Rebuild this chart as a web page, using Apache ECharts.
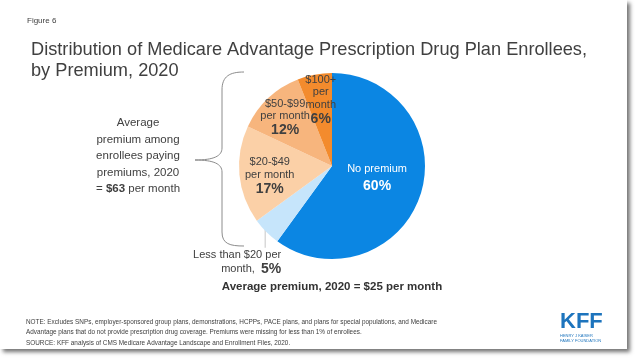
<!DOCTYPE html>
<html><head><meta charset="utf-8">
<script src="https://cdn.jsdelivr.net/npm/echarts@6/dist/echarts.min.js"></script>
<style>html,body{margin:0;padding:0;background:#fff}#c{width:635px;height:363px}</style>
</head><body><div id="c"></div>
<script>
const categories = ['No premium', 'Less than $20 per month', '$20-$49 per month', '$50-$99 per month', '$100+ per month'];
const shares = [60, 5, 17, 12, 6];
const sliceColors = ['#0b86e3', '#c6e5fb', '#fbd0a7', '#f7b57d', '#f38b2d'];
const labelShift = [[-2, -3], [27, 24], [-13, 6], [-13, -12], [-2, -17]];

const chart = echarts.init(document.getElementById('c'), null, {renderer: 'canvas'});
const FONT = 'Liberation Sans, Arial, sans-serif';
const TXT = '#404040';
const BR = '#8c8c8c';

function fmt(p) {
  const v = p.value + '%';
  switch (p.dataIndex) {
    case 0: return '{w|No premium}\n{wb|' + v + '}';
    case 1: return '{n|Less than $20 per}\n{n|month,  }{b|' + v + '}';
    case 2: return '{n|$20-$49}\n{n|per month}\n{b|' + v + '}';
    case 3: return '{n|$50-$99}\n{n|per month}\n{b|' + v + '}';
    case 4: return '{n|$100+}\n{n|per}\n{n|month}\n{b|' + v + '}';
  }
}

const rich = {
  w: {color: '#fff', fontSize: 11, fontFamily: FONT, lineHeight: 16},
  wb: {color: '#fff', fontSize: 14, fontWeight: 'bold', fontFamily: FONT, lineHeight: 18},
  n: {color: TXT, fontSize: 11, fontFamily: FONT, lineHeight: 12.5},
  b: {color: TXT, fontSize: 14, fontWeight: 'bold', fontFamily: FONT, lineHeight: 16}
};

const braceStyle = {fill: null, stroke: BR, lineWidth: 1};

chart.setOption({
  animation: false,
  backgroundColor: '#fff',
  graphic: [
    {type: 'rect', z: -10, shape: {x: 0, y: 0, width: 627, height: 349},
     style: {fill: '#fff', shadowColor: 'rgba(0,0,0,0.55)', shadowBlur: 4, shadowOffsetX: 3, shadowOffsetY: 3}},
    {type: 'text', x: 27, y: 17, style: {text: 'Figure 6', fontSize: 8, fontFamily: FONT, fill: TXT}},
    {type: 'text', x: 31, y: 39, style: {text: 'Distribution of Medicare Advantage Prescription Drug Plan Enrollees,\nby Premium, 2020', fontSize: 18.2, lineHeight: 21, fontFamily: FONT, fill: TXT}},
    {type: 'text', x: 138, y: 115, style: {text: '{n|Average}\n{n|premium among}\n{n|enrollees paying}\n{n|premiums, 2020}\n{n|= }{b|$63}{n| per month}', align: 'center',
      rich: {n: {fontSize: 11.5, fontFamily: FONT, fill: TXT, lineHeight: 16.5}, b: {fontSize: 11.5, fontWeight: 'bold', fontFamily: FONT, fill: TXT, lineHeight: 16.5}}}},
    {type: 'bezierCurve', shape: {x1: 244, y1: 72, cpx1: 230, cpy1: 72, cpx2: 222, cpy2: 76, x2: 222, y2: 90}, style: braceStyle},
    {type: 'line', shape: {x1: 222, y1: 90, x2: 222, y2: 148}, style: braceStyle},
    {type: 'bezierCurve', shape: {x1: 222, y1: 148, cpx1: 222, cpy1: 156, cpx2: 214, cpy2: 160, x2: 195, y2: 160}, style: braceStyle},
    {type: 'bezierCurve', shape: {x1: 195, y1: 160, cpx1: 214, cpy1: 160, cpx2: 222, cpy2: 164, x2: 222, y2: 172}, style: braceStyle},
    {type: 'line', shape: {x1: 222, y1: 172, x2: 222, y2: 232}, style: braceStyle},
    {type: 'bezierCurve', shape: {x1: 222, y1: 232, cpx1: 222, cpy1: 244, cpx2: 230, cpy2: 246, x2: 244, y2: 246}, style: braceStyle},
    {type: 'text', x: 332, y: 281, style: {text: 'Average premium, 2020 = $25 per month', align: 'center', fontSize: 11.5, fontWeight: 'bold', fontFamily: FONT, fill: '#333'}},
    {type: 'text', x: 26, y: 317, scaleX: 0.853, style: {text: 'NOTE: Excludes SNPs, employer-sponsored group plans, demonstrations, HCPPs, PACE plans, and plans for special populations, and Medicare\nAdvantage plans that do not provide prescription drug coverage. Premiums were missing for less than 1% of enrollees.', fontSize: 7.5, lineHeight: 10, fontFamily: FONT, fill: TXT}},
    {type: 'text', x: 26, y: 339, scaleX: 0.853, style: {text: 'SOURCE: KFF analysis of CMS Medicare Advantage Landscape and Enrollment Files, 2020.', fontSize: 7.5, fontFamily: FONT, fill: TXT}},
    {type: 'text', x: 560, y: 311, style: {text: 'KFF', fontSize: 22, fontWeight: 'bold', fontFamily: FONT, fill: '#1d74bd'}},
    {type: 'text', x: 560, y: 334, style: {text: 'HENRY J KAISER\nFAMILY FOUNDATION', fontSize: 4, lineHeight: 4.5, fontFamily: FONT, fill: '#1d74bd'}}
  ],
  series: [{
    type: 'pie',
    center: [332, 166],
    radius: 93,
    startAngle: 90,
    clockwise: true,
    silent: true,
    labelLine: {show: false},
    data: categories.map((c, i) => ({
      name: c, value: shares[i],
      itemStyle: {color: sliceColors[i]},
      label: i === 1 ? {position: 'outside'} : {position: 'inside'},
      labelLine: i === 1 ? {show: true, length: 10, length2: 0, lineStyle: {color: '#d9d9d9', width: 1.5}} : {show: false}
    })),
    label: {formatter: fmt, rich: rich, align: 'center'},
    labelLayout: function (p) {
      const out = {dx: labelShift[p.dataIndex][0], dy: labelShift[p.dataIndex][1]};
      if (p.dataIndex === 1 && p.labelLinePoints && p.labelLinePoints[0]) {
        const a = p.labelLinePoints[0];
        out.labelLinePoints = [[a[0] - 1, a[1] - 4], [a[0] - 1, a[1] + 16]];
      }
      return out;
    }
  }]
});
</script></body></html>
